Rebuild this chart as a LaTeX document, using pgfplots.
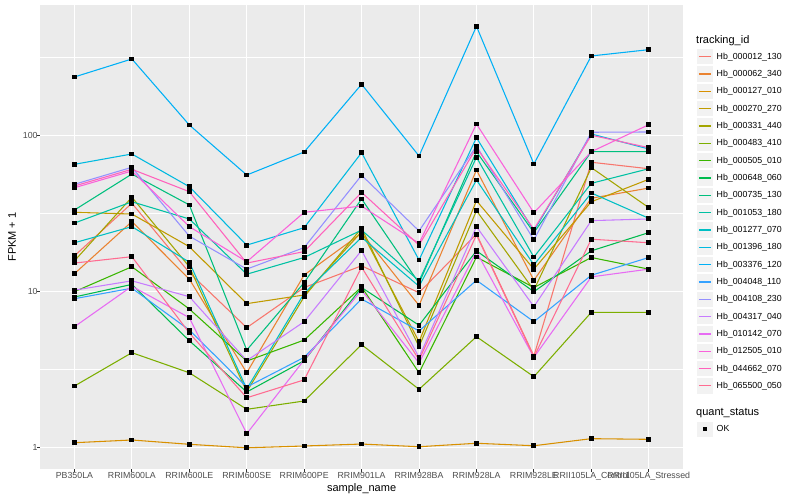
\documentclass[border=0pt]{standalone}
\usepackage{pgfplots}
\pgfplotsset{compat=1.18}
\usepackage{pgfplotstable}
\usepackage{fontspec}
\setmainfont{Liberation Sans}
\definecolor{c1}{HTML}{F8766D}
\definecolor{c2}{HTML}{EA8331}
\definecolor{c3}{HTML}{D89000}
\definecolor{c4}{HTML}{C09B00}
\definecolor{c5}{HTML}{A3A500}
\definecolor{c6}{HTML}{7CAE00}
\definecolor{c7}{HTML}{39B600}
\definecolor{c8}{HTML}{00BB4E}
\definecolor{c9}{HTML}{00BF7D}
\definecolor{c10}{HTML}{00C1A3}
\definecolor{c11}{HTML}{00BFC4}
\definecolor{c12}{HTML}{00BAE0}
\definecolor{c13}{HTML}{00B0F6}
\definecolor{c14}{HTML}{35A2FF}
\definecolor{c15}{HTML}{9590FF}
\definecolor{c16}{HTML}{C77CFF}
\definecolor{c17}{HTML}{E76BF3}
\definecolor{c18}{HTML}{FA62DB}
\definecolor{c19}{HTML}{FF62BC}
\definecolor{c20}{HTML}{FF6C91}
\definecolor{panelbg}{HTML}{EBEBEB}
\definecolor{gray30}{HTML}{4D4D4D}
\definecolor{gray20}{HTML}{333333}
\definecolor{keybg}{HTML}{F2F2F2}

\pgfplotstableread{
x s1 s2 s3 s4 s5 s6 s7 s8 s9 s10 s11 s12 s13 s14 s15 s16 s17 s18 s19 s20
1 16.9 13.0 1.078 32.1 15.7 2.485 9.97 9.22 33.2 27.4 20.5 65.1 235.7 8.99 48.5 10.2 5.95 46.1 47.3 15.2
2 36.7 28.0 1.122 31.3 40.1 4.06 14.4 11.1 56.4 37.5 26.0 75.8 307.3 10.5 62.3 11.7 10.8 59.0 60.5 16.7
3 13.2 12.0 1.053 19.35 14.4 3.02 7.73 4.84 35.8 29.1 15.4 46.8 116.2 5.67 22.6 9.26 6.80 26.0 43.5 5.43
4 5.87 3.02 1.00 8.36 2.285 1.763 3.59 2.275 4.22 12.9 2.38 19.8 55.6 2.45 13.9 3.61 1.231 15.5 15.2 2.09
5 10.6 12.75 1.027 9.50 9.26 1.993 4.89 3.61 11.4 16.5 9.74 25.6 78.1 3.79 19.1 6.41 3.65 32.1 18.0 2.72
6 14.6 23.6 1.057 24.1 25.4 4.57 10.7 10.6 39.1 24.7 22.2 77.3 211.7 8.95 55.4 18.3 10.2 35.2 43.1 14.3
7 9.82 8.14 1.016 4.77 4.44 2.367 3.02 6.08 11.3 11.7 10.8 15.9 73.6 5.59 24.4 3.79 3.49 20.3 19.8 3.65
8 23.3 59.9 1.069 38.1 32.9 5.14 16.6 18.2 78.4 72.2 51.7 96.4 497.4 11.8 85.3 26.0 18.0 117.9 83.2 23.0
9 3.87 11.8 1.031 13.9 10.2 2.85 10.6 9.97 23.8 16.6 14.8 24.4 65.4 6.41 21.4 8.0 3.79 31.9 25.0 3.81
10 67.1 39.5 1.144 37.5 62.0 7.36 16.5 18.2 78.4 49.2 42.7 101.8 321.2 12.7 104.4 28.4 12.4 78.4 99.9 21.6
11 61.0 45.9 1.133 52.2 34.4 7.36 13.9 23.8 78.4 61.0 29.4 81.6 352.4 16.5 104.8 29.1 13.9 116.7 83.2 20.5
}\data

\pgfplotsset{
  keyline/.style={legend image code/.code={
    \path[draw=none, fill=none] (0pt,-8.665pt) rectangle (15.4pt,8.665pt);
    \fill[keybg, draw=none] (0pt,-7.7pt) rectangle (15.4pt,7.7pt);
    \draw[line width=1.07pt, fill=none] (1.54pt,0pt) -- (13.86pt,0pt);
  }},
  titleimgA/.style={legend image code/.code={
    \path[draw=none, fill=none] (0pt,-7.33pt) rectangle (15.4pt,6pt);
  }},
  titleimgB/.style={legend image code/.code={
    \path[draw=none, fill=none] (0pt,-8.5pt) rectangle (15.4pt,17.6pt);
  }},
  okimg/.style={legend image code/.code={
    \path[draw=none, fill=none] (0pt,-8.665pt) rectangle (15.4pt,8.665pt);
    \fill[keybg, draw=none] (0pt,-7.7pt) rectangle (15.4pt,7.7pt);
    \fill[black, draw=none] (5.8pt,-1.9pt) rectangle (9.6pt,1.9pt);
  }},
}

\begin{document}
\begin{tikzpicture}
\path[use as bounding box] (0pt,0pt) rectangle (800pt,500pt);
\begin{axis}[
  at={(40pt,31.1pt)}, anchor=south west,
  scale only axis, width=643.2pt, height=463.7pt,
  xmin=0.4, xmax=11.6,
  ymode=log, log basis y=10, ymin=0.733, ymax=678.5,
  axis background/.style={fill=panelbg},
  axis line style={draw=none},
  xtick={1,2,3,4,5,6,7,8,9,10,11},
  xticklabels={PB350LA,RRIM600LA,RRIM600LE,RRIM600SE,RRIM600PE,RRIM901LA,RRIM928BA,RRIM928LA,RRIM928LE,RRII105LA\_Control,RRII105LA\_Stressed},
  ytick={1,10,100}, yticklabels={1,10,100},
  minor ytick={3.1623,31.623,316.23},
  grid=both,
  major grid style={white, line width=1.07pt},
  minor grid style={white, line width=0.53pt},
  tick align=outside, major tick length=2.75pt, minor tick length=0pt,
  tick style={gray20, line width=1.07pt},
  xtick pos=left, ytick pos=left,
  /pgf/number format/assume math mode=true,
  xticklabel style={font=\fontsize{8.8}{10}\selectfont, text=gray30, inner sep=0pt, anchor=north, yshift=-0.5pt},
  yticklabel style={font=\fontsize{8.8}{10}\selectfont, text=gray30, inner sep=0pt, anchor=east, xshift=0.5pt},
  xlabel={sample\_name}, ylabel={FPKM + 1},
  xlabel style={font=\fontsize{11}{13}\selectfont, at={(axis description cs:0.5,0)}, anchor=center, yshift=-19.5pt},
  ylabel style={font=\fontsize{11}{13}\selectfont, at={(axis description cs:0,0.5)}, anchor=center, yshift=28pt},
  legend cell align=left,
  legend style={at={(axis description cs:1,1)}, anchor=north west, xshift=14.1pt, yshift=-29.5pt,
    draw=none, fill=none, inner sep=0pt, outer sep=0pt, row sep=0pt, column sep=4pt,
    nodes={inner sep=0pt, outer sep=0pt, font=\fontsize{8.8}{10}\selectfont, text=black}},
]
\pgfplotsinvokeforeach{1,...,20}{
  \addplot[c#1, line width=1.07pt, forget plot] table[x=x, y=s#1] {\data};
}
\pgfplotsinvokeforeach{1,...,20}{
  \addplot[only marks, mark=square*, mark size=1.9pt, mark options={fill=black, draw=black, line width=0pt}, forget plot] table[x=x, y=s#1] {\data};
}
\addlegendimage{titleimgA}
\addlegendentry{\hspace*{-20.5pt}\fontsize{11}{13}\selectfont tracking\_id}
\addlegendimage{keyline, c1}\addlegendentry{Hb\_000012\_130}
\addlegendimage{keyline, c2}\addlegendentry{Hb\_000062\_340}
\addlegendimage{keyline, c3}\addlegendentry{Hb\_000127\_010}
\addlegendimage{keyline, c4}\addlegendentry{Hb\_000270\_270}
\addlegendimage{keyline, c5}\addlegendentry{Hb\_000331\_440}
\addlegendimage{keyline, c6}\addlegendentry{Hb\_000483\_410}
\addlegendimage{keyline, c7}\addlegendentry{Hb\_000505\_010}
\addlegendimage{keyline, c8}\addlegendentry{Hb\_000648\_060}
\addlegendimage{keyline, c9}\addlegendentry{Hb\_000735\_130}
\addlegendimage{keyline, c10}\addlegendentry{Hb\_001053\_180}
\addlegendimage{keyline, c11}\addlegendentry{Hb\_001277\_070}
\addlegendimage{keyline, c12}\addlegendentry{Hb\_001396\_180}
\addlegendimage{keyline, c13}\addlegendentry{Hb\_003376\_120}
\addlegendimage{keyline, c14}\addlegendentry{Hb\_004048\_110}
\addlegendimage{keyline, c15}\addlegendentry{Hb\_004108\_230}
\addlegendimage{keyline, c16}\addlegendentry{Hb\_004317\_040}
\addlegendimage{keyline, c17}\addlegendentry{Hb\_010142\_070}
\addlegendimage{keyline, c18}\addlegendentry{Hb\_012505\_010}
\addlegendimage{keyline, c19}\addlegendentry{Hb\_044662\_070}
\addlegendimage{keyline, c20}\addlegendentry{Hb\_065500\_050}
\addlegendimage{titleimgB}
\addlegendentry{\hspace*{-20.5pt}\fontsize{11}{13}\selectfont quant\_status}
\addlegendimage{okimg}\addlegendentry{OK}
\end{axis}
\end{tikzpicture}
\end{document}
